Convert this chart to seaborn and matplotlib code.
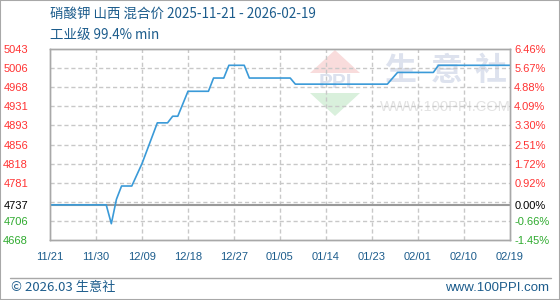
import matplotlib
matplotlib.use("Agg")
import matplotlib.pyplot as plt
import seaborn as sns
import pandas as pd
from matplotlib.patches import Polygon, Rectangle
from matplotlib.lines import Line2D

# ---------------- data ----------------
title_line1 = "硝酸钾 山西 混合价 2025-11-21 - 2026-02-19"
title_line2 = "工业级 99.4% min"
footer_left = "© 2026.03 生意社"
footer_right = "www.100PPI.com"

dates = ["2025-11-21", "2025-12-02", "2025-12-03", "2025-12-04", "2025-12-05",
         "2025-12-07", "2025-12-09", "2025-12-12", "2025-12-14", "2025-12-15",
         "2025-12-16", "2025-12-18", "2025-12-22", "2025-12-23", "2025-12-25",
         "2025-12-26", "2025-12-29", "2025-12-30", "2026-01-07", "2026-01-08",
         "2026-01-26", "2026-01-28", "2026-02-04", "2026-02-05", "2026-02-19"]
prices = [4737, 4737, 4700, 4748, 4774,
          4774, 4818, 4898, 4898, 4911,
          4911, 4960, 4960, 4986, 4986,
          5011, 5011, 4986, 4986, 4974,
          4974, 4997, 4997, 5011, 5011]

base_price = 4737

x_tick_dates = ["2025-11-21", "2025-11-30", "2025-12-09", "2025-12-18", "2025-12-27",
                "2026-01-05", "2026-01-14", "2026-01-23", "2026-02-01", "2026-02-10",
                "2026-02-19"]
x_tick_labels = ["11/21", "11/30", "12/09", "12/18", "12/27", "01/05",
                 "01/14", "01/23", "02/01", "02/10", "02/19"]

y_grid_values = [4705.5, 4743, 4780.5, 4818, 4855.5, 4893, 4930.5, 4968, 5005.5]
y_min, y_max = 4668, 5043
y_tick_values = [4668, 4705.5, 4737, 4780.5, 4818, 4855.5, 4893, 4930.5, 4968, 5005.5, 5043]
y_tick_labels = ["4668", "4706", "4737", "4781", "4818", "4856", "4893", "4931",
                 "4968", "5006", "5043"]
pct_labels = ["-1.45%", "-0.66%", "0.00%", "0.92%", "1.72%", "2.51%", "3.30%",
              "4.09%", "4.88%", "5.67%", "6.46%"]

# ---------------- style ----------------
sns.set_style("white")
plt.rcParams['font.family'] = ['Noto Sans CJK SC', 'DejaVu Sans']

RED = "#ff3333"
GREEN = "#2eaa2e"
BLUE_TXT = "#1c5c8c"
LINE = "#3a9ad8"
GRID = "#c8c8c8"
FRAME = "#a8a8a8"

W, H = 560, 300
fig = plt.figure(figsize=(W / 100, H / 100), dpi=100)
ax = fig.add_axes([50 / W, 1 - 240 / H, 460 / W, 191 / H])
ax.set_facecolor("white")

df = pd.DataFrame({"date": pd.to_datetime(dates), "price": prices})
xt = pd.to_datetime(x_tick_dates)


def fx(px):
    return px / W


def fy(py):
    return 1 - py / H


# watermark (behind everything)
ax.add_patch(Polygon([[fx(310), fy(73)], [fx(360), fy(73)], [fx(335), fy(50)]],
                     closed=True, transform=fig.transFigure, facecolor="#f9dcdc",
                     edgecolor="none", zorder=0))
ax.add_patch(Polygon([[fx(310), fy(93)], [fx(360), fy(93)], [fx(335), fy(116)]],
                     closed=True, transform=fig.transFigure, facecolor="#d9f0dc",
                     edgecolor="none", zorder=0))
ax.text(fx(335), fy(83), "PPI", transform=fig.transFigure, ha="center", va="center",
        fontsize=15, fontweight="bold", color="#dbe1ee", family=["Liberation Sans"],
        zorder=0)
for ch, cx in zip("生意社", [400, 447, 491]):
    ax.text(fx(cx), fy(71), ch, transform=fig.transFigure, ha="center", va="center",
            fontsize=23, fontweight="bold", color="#dde2ee", zorder=0)
ax.text(fx(445), fy(107), "WWW.100PPI.COM", transform=fig.transFigure, ha="center",
        va="center", fontsize=10.5, color="#e3e3e3", family=["Liberation Sans"], zorder=0)

# grid
for gv in y_grid_values:
    ax.axhline(gv, color=GRID, lw=1, ls=(0, (3, 2)), zorder=1)
for d in xt[1:-1]:
    ax.axvline(d, color=GRID, lw=1, ls=(0, (3, 2)), zorder=1)
ax.axhline(base_price, color="#9a9a9a", lw=1.5, zorder=2)

sns.lineplot(data=df, x="date", y="price", ax=ax, color=LINE, linewidth=1.2, zorder=3)

ax.set_xlim(xt[0], xt[-1])
ax.set_ylim(y_min, y_max)
ax.set_xlabel("")
ax.set_ylabel("")
ax.set_xticks(xt)
ax.set_xticklabels(x_tick_labels, family=["Liberation Sans"], fontsize=8, color=BLUE_TXT)
ax.tick_params(axis="x", length=0, pad=8.5)
ax.set_yticks(y_tick_values)
ax.set_yticklabels(y_tick_labels, family=["Liberation Sans"], fontsize=8)
ax.tick_params(axis="y", length=0, pad=15.8)


def lab_color(v):
    if v > base_price:
        return RED
    if v < base_price:
        return GREEN
    return "black"


for lab, v in zip(ax.get_yticklabels(), y_tick_values):
    lab.set_color(lab_color(v))

ax2 = ax.twinx()
ax2.set_ylim(y_min, y_max)
ax2.set_yticks(y_tick_values)
ax2.set_yticklabels(pct_labels, family=["Liberation Sans"], fontsize=8)
ax2.tick_params(axis="y", length=0, pad=3)
for lab, v in zip(ax2.get_yticklabels(), y_tick_values):
    lab.set_color(lab_color(v))

for a in (ax, ax2):
    for s in a.spines.values():
        s.set_color(FRAME)
        s.set_linewidth(1)

# titles
fig.text(fx(50), fy(14), title_line1, ha="left", va="center", fontsize=9.7, color=BLUE_TXT)
fig.text(fx(50), fy(35), title_line2, ha="left", va="center", fontsize=9.7, color=BLUE_TXT)

# footer
fig.add_artist(Line2D([fx(10), fx(551)], [fy(277.5), fy(277.5)], color=FRAME, lw=1))
fig.text(fx(11), fy(288), footer_left, ha="left", va="center", fontsize=9.5, color=BLUE_TXT)
fig.text(fx(549), fy(288), footer_right, ha="right", va="center", fontsize=9.5,
         color=BLUE_TXT, family=["Liberation Sans"])
fig.add_artist(Rectangle((0, 0), 1, 1, transform=fig.transFigure, fill=False,
                         edgecolor=FRAME, lw=1.5))

fig.savefig("out.png", dpi=100)
